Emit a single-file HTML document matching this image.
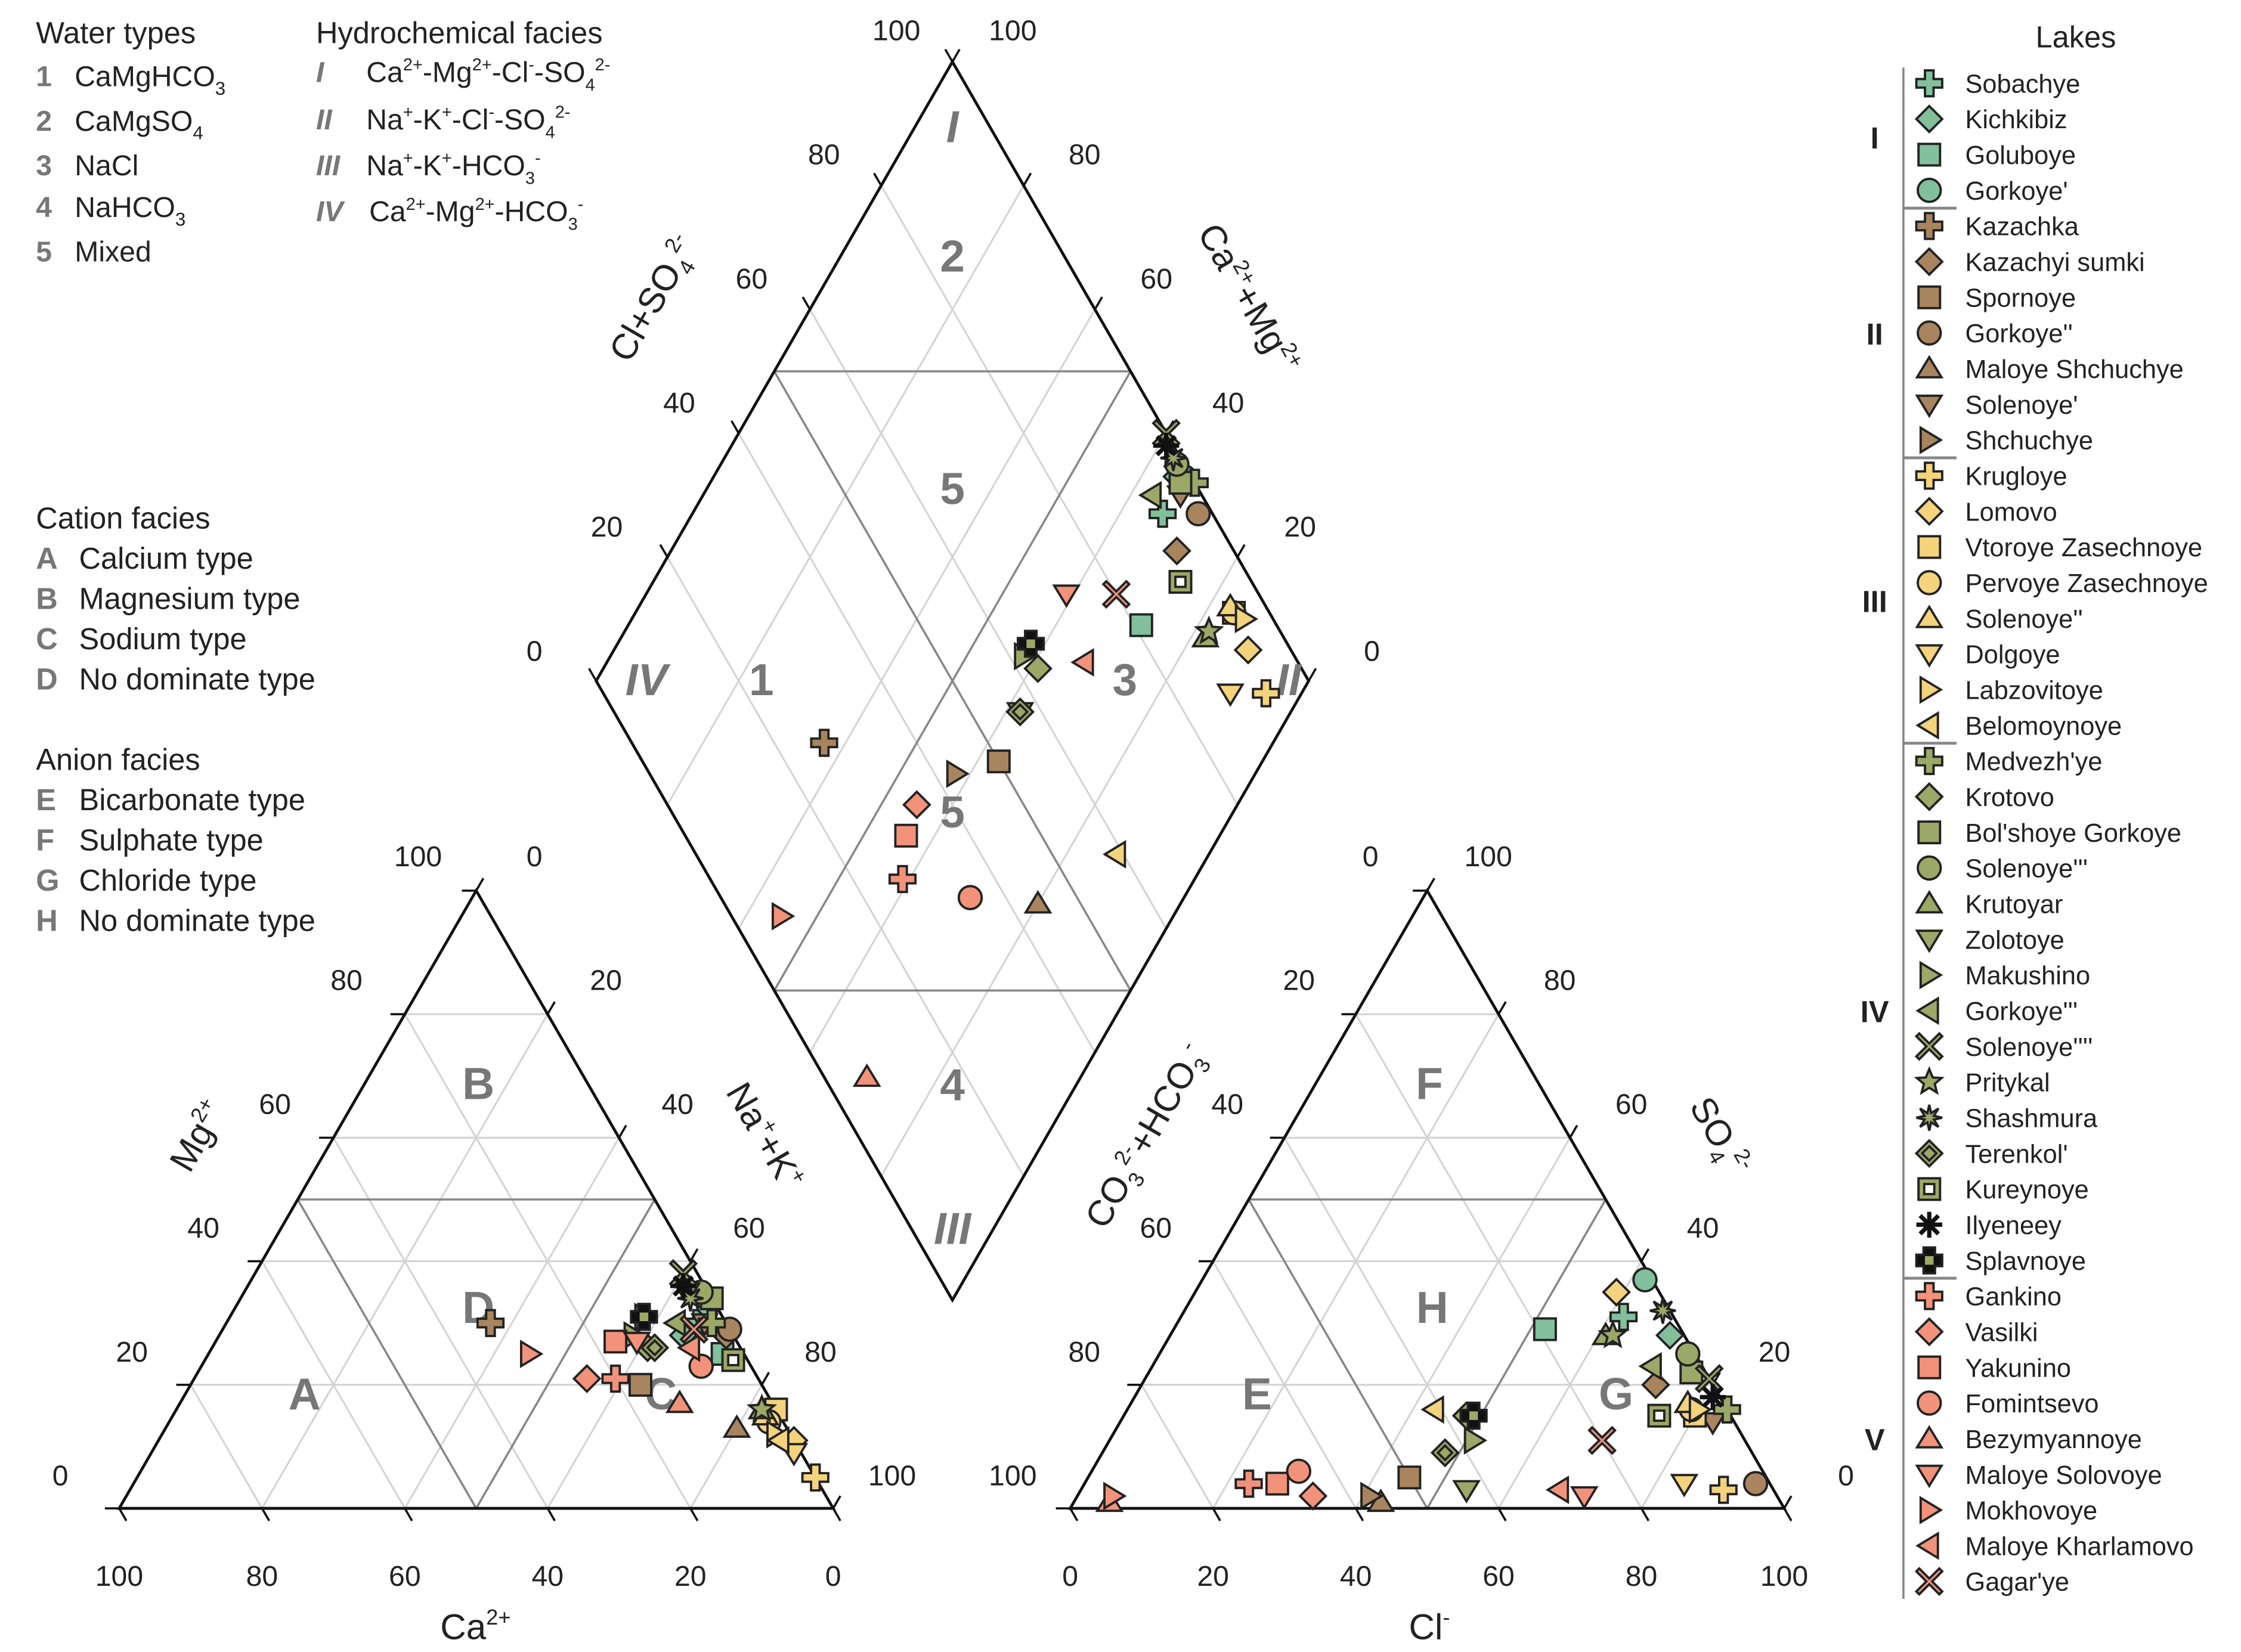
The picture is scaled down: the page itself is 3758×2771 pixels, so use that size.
<!DOCTYPE html>
<html><head><meta charset="utf-8"><style>
html,body{margin:0;padding:0;background:#fff}
svg{display:block}
text{font-family:"Liberation Sans",Arial,sans-serif;fill:#222}
.g{fill:#777;font-weight:bold}
</style></head><body>
<svg id="c" width="3758" height="2771" viewBox="0 0 1560 1150" preserveAspectRatio="none" xmlns="http://www.w3.org/2000/svg">
<g id="grid"></g>
<g id="frame"></g>
<g id="labels">
<text x="25" y="30" font-size="21">Water types</text>
<text x="25" y="60" font-size="20"><tspan class="g">1</tspan><tspan x="52">CaMgHCO</tspan><tspan font-size="13" dy="6">3</tspan></text>
<text x="25" y="91" font-size="20"><tspan class="g">2</tspan><tspan x="52">CaMgSO</tspan><tspan font-size="13" dy="6">4</tspan></text>
<text x="25" y="122" font-size="20"><tspan class="g">3</tspan><tspan x="52">NaCl</tspan></text>
<text x="25" y="151" font-size="20"><tspan class="g">4</tspan><tspan x="52">NaHCO</tspan><tspan font-size="13" dy="6">3</tspan></text>
<text x="25" y="182" font-size="20"><tspan class="g">5</tspan><tspan x="52">Mixed</tspan></text>
<text x="220" y="30" font-size="21">Hydrochemical facies</text>
<text x="220" y="57" font-size="20"><tspan class="g" font-style="italic">I</tspan><tspan x="255">Ca</tspan><tspan font-size="12" dy="-8">2+</tspan><tspan dy="8">-Mg</tspan><tspan font-size="12" dy="-8">2+</tspan><tspan dy="8">-Cl</tspan><tspan font-size="12" dy="-8">-</tspan><tspan dy="8">-SO</tspan><tspan font-size="12" dy="6">4</tspan><tspan font-size="12" dy="-14">2-</tspan></text>
<text x="220" y="90" font-size="20"><tspan class="g" font-style="italic">II</tspan><tspan x="255">Na</tspan><tspan font-size="12" dy="-8">+</tspan><tspan dy="8">-K</tspan><tspan font-size="12" dy="-8">+</tspan><tspan dy="8">-Cl</tspan><tspan font-size="12" dy="-8">-</tspan><tspan dy="8">-SO</tspan><tspan font-size="12" dy="6">4</tspan><tspan font-size="12" dy="-14">2-</tspan></text>
<text x="220" y="122" font-size="20"><tspan class="g" font-style="italic">III</tspan><tspan x="255">Na</tspan><tspan font-size="12" dy="-8">+</tspan><tspan dy="8">-K</tspan><tspan font-size="12" dy="-8">+</tspan><tspan dy="8">-HCO</tspan><tspan font-size="12" dy="6">3</tspan><tspan font-size="12" dy="-14">-</tspan></text>
<text x="220" y="154" font-size="20"><tspan class="g" font-style="italic">IV</tspan><tspan x="257">Ca</tspan><tspan font-size="12" dy="-8">2+</tspan><tspan dy="8">-Mg</tspan><tspan font-size="12" dy="-8">2+</tspan><tspan dy="8">-HCO</tspan><tspan font-size="12" dy="6">3</tspan><tspan font-size="12" dy="-14">-</tspan></text>
<text x="25" y="368" font-size="21">Cation facies</text>
<text x="25" y="396" font-size="21"><tspan class="g">A</tspan><tspan x="55">Calcium type</tspan></text>
<text x="25" y="424" font-size="21"><tspan class="g">B</tspan><tspan x="55">Magnesium type</tspan></text>
<text x="25" y="452" font-size="21"><tspan class="g">C</tspan><tspan x="55">Sodium type</tspan></text>
<text x="25" y="480" font-size="21"><tspan class="g">D</tspan><tspan x="55">No dominate type</tspan></text>
<text x="25" y="536" font-size="21">Anion facies</text>
<text x="25" y="564" font-size="21"><tspan class="g">E</tspan><tspan x="55">Bicarbonate type</tspan></text>
<text x="25" y="592" font-size="21"><tspan class="g">F</tspan><tspan x="55">Sulphate type</tspan></text>
<text x="25" y="620" font-size="21"><tspan class="g">G</tspan><tspan x="55">Chloride type</tspan></text>
<text x="25" y="648" font-size="21"><tspan class="g">H</tspan><tspan x="55">No dominate type</tspan></text>
</g>
<g id="zones" font-size="31" text-anchor="middle">
<text class="g" font-style="italic" x="663" y="99">I</text>
<text class="g" x="663" y="189">2</text>
<text class="g" x="663" y="351">5</text>
<text class="g" x="530" y="484">1</text>
<text class="g" x="783" y="484">3</text>
<text class="g" font-style="italic" x="450" y="484">IV</text>
<text class="g" font-style="italic" x="897" y="484">II</text>
<text class="g" x="663" y="576">5</text>
<text class="g" x="663" y="766">4</text>
<text class="g" font-style="italic" x="663" y="866">III</text>
<text class="g" x="333" y="765">B</text>
<text class="g" x="212" y="981">A</text>
<text class="g" x="460" y="981">C</text>
<text class="g" x="333" y="921">D</text>
<text class="g" x="995" y="765">F</text>
<text class="g" x="875" y="981">E</text>
<text class="g" x="1125" y="981">G</text>
<text class="g" x="997" y="921">H</text>
</g>
<g id="ticks" font-size="20" text-anchor="middle"></g>
<g font-size="25" text-anchor="middle">
<text x="331" y="1141">Ca<tspan font-size="15" dy="-10">2+</tspan></text>
<text x="995" y="1141">Cl<tspan font-size="15" dy="-10">-</tspan></text>
<text transform="translate(145,795) rotate(-60)">Mg<tspan font-size="15" dy="-10">2+</tspan></text>
<text transform="translate(525,795) rotate(60)">Na<tspan font-size="15" dy="-10">+</tspan><tspan dy="10">+K</tspan><tspan font-size="15" dy="-10">+</tspan></text>
<text transform="translate(805,795) rotate(-60)">CO<tspan font-size="15" dy="6">3</tspan><tspan font-size="15" dy="-16">2-</tspan><tspan dy="10">+HCO</tspan><tspan font-size="15" dy="6">3</tspan><tspan font-size="15" dy="-16">-</tspan></text>
<text transform="translate(1190,795) rotate(60)">SO<tspan font-size="15" dy="6">4</tspan><tspan font-size="15" dy="-16">2-</tspan></text>
<text transform="translate(462,212) rotate(-60)">Cl+SO<tspan font-size="15" dy="6">4</tspan><tspan font-size="15" dy="-16">2-</tspan></text>
<text transform="translate(862,212) rotate(60)">Ca<tspan font-size="15" dy="-10">2+</tspan><tspan dy="10">+Mg</tspan><tspan font-size="15" dy="-10">2+</tspan></text>
</g>
<g id="points"></g>
<g id="legend">
<text x="1445" y="33" font-size="21" text-anchor="middle">Lakes</text>
</g>
</svg>
<script>
const lakeNames=["Sobachye","Kichkibiz","Goluboye","Gorkoye'","Kazachka","Kazachyi sumki","Spornoye","Gorkoye''","Maloye Shchuchye","Solenoye'","Shchuchye","Krugloye","Lomovo","Vtoroye Zasechnoye","Pervoye Zasechnoye","Solenoye''","Dolgoye","Labzovitoye","Belomoynoye","Medvezh'ye","Krotovo","Bol'shoye Gorkoye","Solenoye'''","Krutoyar","Zolotoye","Makushino","Gorkoye'''","Solenoye''''","Pritykal","Shashmura","Terenkol'","Kureynoye","Ilyeneey","Splavnoye","Gankino","Vasilki","Yakunino","Fomintsevo","Bezymyannoye","Maloye Solovoye","Mokhovoye","Maloye Kharlamovo","Gagar'ye"];
const lakeGroups=[1,1,1,1,2,2,2,2,2,2,2,3,3,3,3,3,3,3,3,4,4,4,4,4,4,4,4,4,4,4,4,4,4,4,5,5,5,5,5,5,5,5,5];
const lakeShapes=["plus","diamond","square","circle","plus","diamond","square","circle","up","down","right","plus","diamond","square","circle","up","down","right","left","plus","diamond","square","circle","up","down","right","left","x","star5","star8","diamondIn","squareIn","asterisk","plusIn","plus","diamond","square","circle","up","down","right","left","x"];
// cation percentages
const naK=[66,65,72,66,37,71,63,71,80,67,58,95,89,84,84,83,90,86,87,68,61,66,64,82,62,58,63,60,82,63,62,74,61,58,59,55,56,70,70,59,45,67,66];
const mg=[30,28,25,33,30,28,20,29,13,30,31,5,11,16,14,15,9,12,11,30,26,34,35,16,35,28,30,38,16,34,26,24,36,31,21,21,27,23,17,27,25,26,29];
// anion percentages
const cl=[62,70,52,62,23,72,45,94,43,83,41,90,59,80,79,78,84,80,43,84,48,76,74,61,54,51,70,79,62,67,48,75,81,49,23,33,27,29,5,71,5,67,69];
const so4=[31,28,29,37,4,20,5,4,1,14,2,3,35,15,16,17,4,16,16,16,15,22,25,28,3,11,23,21,28,32,9,15,18,15,4,2,4,6,1,2,2,3,11];
const groupColors={1:"#82c09c",2:"#a8855f",3:"#f3d37c",4:"#9ba867",5:"#f2927b"};
const groupRoman={1:"I",2:"II",3:"III",4:"IV",5:"V"};

const NS="http://www.w3.org/2000/svg";
function el(tag,attrs,parent){const e=document.createElementNS(NS,tag);for(const k in attrs)e.setAttribute(k,attrs[k]);parent.appendChild(e);return e;}
const L=497,H=430,YB=1050,XL=83,XR=745;
function leftPt(n,m){return [XL+L*(n+m/2)/100,YB-H*m/100];}
function rightPt(c,s){return [XR+L*(c+s/2)/100,YB-H*s/100];}
function diaPt(a,b){return [663+248*(a-b)/100,905-431*(a+b)/100];}

const grid=document.getElementById('grid'),frame=document.getElementById('frame');
function line(p,q,col,w,par){el('line',{x1:p[0],y1:p[1],x2:q[0],y2:q[1],stroke:col,'stroke-width':w},par);}
function tick(q,dx,dy){line(q,[q[0]+dx*10,q[1]+dy*10],'#111',1.5,frame);}
const S=0.5,C=0.866;
[leftPt,rightPt].forEach(f=>{
  for(let v=20;v<100;v+=20){
    line(f(0,v),f(100-v,v),'#d4d4d4',1.3,grid);
    line(f(v,0),f(v,100-v),'#d4d4d4',1.3,grid);
    line(f(v,0),f(0,v),'#d4d4d4',1.3,grid);
  }
  for(let v=0;v<=100;v+=20){
    tick(f(0,v),-1,0);     // left edge
    tick(f(v,0),S,C);      // bottom edge
    tick(f(100-v,v),S,-C); // right edge
  }
  line(f(0,50),f(50,50),'#888',1.5,frame);
  line(f(50,0),f(0,50),'#888',1.5,frame);
  line(f(50,0),f(50,50),'#888',1.5,frame);
  el('polygon',{points:[f(0,0),f(100,0),f(0,100)].map(p=>p.join(',')).join(' '),fill:'none',stroke:'#111','stroke-width':2},frame);
});
for(let v=20;v<100;v+=20){
  line(diaPt(v,0),diaPt(v,100),'#d4d4d4',1.3,grid);
  line(diaPt(0,v),diaPt(100,v),'#d4d4d4',1.3,grid);
}
for(let v=0;v<=100;v+=20){
  tick(diaPt(v,100),-S,-C);
  tick(diaPt(100,v),S,-C);
}
line(diaPt(50,100),diaPt(100,50),'#888',1.5,frame);
line(diaPt(0,50),diaPt(50,0),'#888',1.5,frame);
line(diaPt(50,100),diaPt(50,0),'#888',1.5,frame);
line(diaPt(100,50),diaPt(0,50),'#888',1.5,frame);
el('polygon',{points:[diaPt(0,0),diaPt(100,0),diaPt(100,100),diaPt(0,100)].map(p=>p.join(',')).join(' '),fill:'none',stroke:'#111','stroke-width':2},frame);

const tickVals=[0,20,40,60,80,100];
const tk=document.getElementById('ticks');
function tl(x,y,t){const e=el('text',{x:x,y:y},tk);e.textContent=t;}
tickVals.forEach((v,i)=>{
  tl(580-99.4*i,1104,v);
  tl(745+99.4*i,1104,v);
  tl(42+49.8*i,1034-86.2*i,v);
  tl(372+49.8*i,603+86.2*i,v);
  tl(705+49.8*i,1034-86.2*i,100-v);
  tl(1285-49.8*i,1034-86.2*i,v);
  tl(372+50.4*i,460-86.4*i,v);
  tl(955-50*i,460-86.4*i,v);
});

function marker(shape,x,y,col,par){
  const g=el('g',{transform:`translate(${x},${y})`,stroke:'#222','stroke-width':1.6},par);
  const poly=(pts,f)=>el('polygon',{points:pts,fill:f||col},g);
  switch(shape){
    case 'plus':poly('-3,-9 3,-9 3,-3 9,-3 9,3 3,3 3,9 -3,9 -3,3 -9,3 -9,-3 -3,-3');break;
    case 'plusIn':poly('-4,-9 4,-9 4,-4 9,-4 9,4 4,4 4,9 -4,9 -4,4 -9,4 -9,-4 -4,-4','#111');el('rect',{x:-3,y:-3,width:6,height:6,fill:col,stroke:'none'},g);break;
    case 'diamond':poly('0,-9 9,0 0,9 -9,0');break;
    case 'diamondIn':poly('0,-9 9,0 0,9 -9,0');poly('0,-5 5,0 0,5 -5,0');break;
    case 'square':el('rect',{x:-7.5,y:-7.5,width:15,height:15,fill:col},g);break;
    case 'squareIn':el('rect',{x:-7.5,y:-7.5,width:15,height:15,fill:col},g);el('rect',{x:-3.5,y:-3.5,width:7,height:7,fill:'#fff'},g);break;
    case 'circle':el('circle',{r:8,fill:col},g);break;
    case 'up':poly('0,-8 8.5,6 -8.5,6');break;
    case 'down':poly('0,8 8.5,-6 -8.5,-6');break;
    case 'right':poly('8,0 -6,8.5 -6,-8.5');break;
    case 'left':poly('-8,0 6,8.5 6,-8.5');break;
    case 'x':poly('-7,-9 0,-2 7,-9 9,-7 2,0 9,7 7,9 0,2 -7,9 -9,7 -2,0 -9,-7');break;
    case 'star5':{let p=[];for(let i=0;i<10;i++){const r=i%2?4:9,a=-Math.PI/2+i*Math.PI/5;p.push((r*Math.cos(a)).toFixed(1)+','+(r*Math.sin(a)).toFixed(1));}poly(p.join(' '));break;}
    case 'star8':{let p=[];for(let i=0;i<16;i++){const r=i%2?3.5:9,a=i*Math.PI/8;p.push((r*Math.cos(a)).toFixed(1)+','+(r*Math.sin(a)).toFixed(1));}poly(p.join(' '));break;}
    case 'asterisk':for(let i=0;i<4;i++){const a=i*Math.PI/4;el('line',{x1:-9*Math.cos(a),y1:-9*Math.sin(a),x2:9*Math.cos(a),y2:9*Math.sin(a),stroke:'#111','stroke-width':3},g);}break;
  }
  return g;
}
const pts=document.getElementById('points');
lakeNames.forEach((nm,i)=>{
  const col=groupColors[lakeGroups[i]];
  const n=naK[i],m=mg[i],c=cl[i],s=so4[i];
  const a=c+s,b=100-n;
  const p1=leftPt(n,m),p2=rightPt(c,s),p3=diaPt(a,b);
  [[p1,'cation'],[p2,'anion'],[p3,'diamond']].forEach(([p,k])=>{
    const g=marker(lakeShapes[i],p[0],p[1],col,pts);
    
    
  });
});
const lg=document.getElementById('legend');
const y0=58,dy=24.83;
el('line',{x1:1325,y1:47,x2:1325,y2:1113,stroke:'#888','stroke-width':1.5},lg);
const groupStart={},groupEnd={};
lakeNames.forEach((nm,i)=>{const gN=lakeGroups[i];if(!(gN in groupStart))groupStart[gN]=i;groupEnd[gN]=i;});
for(const gN in groupStart){
  const yc=y0+dy*(groupStart[gN]+groupEnd[gN])/2+8;
  const t=el('text',{x:1305,y:yc,'font-size':21,'font-weight':'bold','text-anchor':'middle'},lg);
  t.textContent=groupRoman[gN];
  
  
  if(groupStart[gN]>0){el('line',{x1:1325,y1:y0+dy*(groupStart[gN]-0.5),x2:1362,y2:y0+dy*(groupStart[gN]-0.5),stroke:'#888','stroke-width':2},lg);}
}
lakeNames.forEach((nm,i)=>{
  const y=y0+dy*i;
  const g=marker(lakeShapes[i],1343,y,groupColors[lakeGroups[i]],lg);
  
  
  const t=el('text',{x:1368,y:y+6.5,'font-size':18},lg);
  t.textContent=nm;
  
  
});
</script>
</body></html>
